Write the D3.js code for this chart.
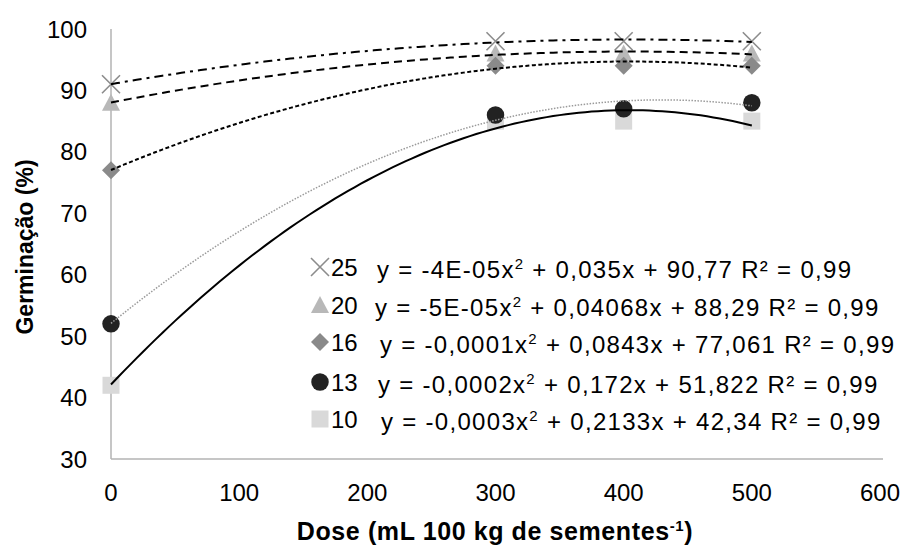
<!DOCTYPE html>
<html>
<head>
<meta charset="utf-8">
<script src="https://cdn.jsdelivr.net/npm/d3@7"></script>
<style>
  body { margin: 0; background: #fff; }
  text { font-family: Arial, "Liberation Sans", sans-serif; fill: #000; }
</style>
</head>
<body>
<div id="chart"></div>
<script>
// doses on x
var doses = [0, 300, 400, 500];
// germination (%) per temperature series
var s25 = [91, 98, 98, 98];
var s20 = [88, 96, 96, 96];
var s16 = [77, 94, 94, 94];
var s13 = [52, 86, 87, 88];
var s10 = [42, 85, 85, 85];
var seriesNames = ["25", "20", "16", "13", "10"];
var equations = [
  ["y = -4E-05x", " + 0,035x + 90,77 R² = 0,99"],
  ["y = -5E-05x", " + 0,04068x + 88,29 R² = 0,99"],
  ["y = -0,0001x", " + 0,0843x + 77,061 R² = 0,99"],
  ["y = -0,0002x", " + 0,172x + 51,822 R² = 0,99"],
  ["y = -0,0003x", " + 0,2133x + 42,34 R² = 0,99"]
];
var xTicks = [0, 100, 200, 300, 400, 500, 600];
var yTicks = [30, 40, 50, 60, 70, 80, 90, 100];

var width = 906, height = 545;
var margin = {top: 29, right: 23, bottom: 86, left: 111};

var svg = d3.select("#chart").append("svg")
  .attr("width", width)
  .attr("height", height);

var x = d3.scaleLinear().domain([0, 600]).range([margin.left, 880]);
var y = d3.scaleLinear().domain([30, 100]).range([height - margin.bottom, margin.top]);

// axes (plain gray lines, no tick marks)
svg.append("line")
  .attr("x1", x(0)).attr("x2", 883)
  .attr("y1", y(30)).attr("y2", y(30))
  .attr("stroke", "#b3b3b3").attr("stroke-width", 1.5);
svg.append("line")
  .attr("x1", x(0)).attr("x2", x(0))
  .attr("y1", y(30)).attr("y2", y(100))
  .attr("stroke", "#b3b3b3").attr("stroke-width", 1.5);

svg.selectAll(".ylab")
  .data(yTicks)
  .enter().append("text")
  .attr("class", "ylab")
  .attr("x", 87)
  .attr("y", function(d) { return y(d); })
  .attr("dy", "0.36em")
  .attr("text-anchor", "end")
  .style("font-size", "24px")
  .text(function(d) { return d; });

svg.selectAll(".xlab")
  .data(xTicks)
  .enter().append("text")
  .attr("class", "xlab")
  .attr("x", function(d) { return x(d); })
  .attr("y", 492)
  .attr("dy", "0.36em")
  .attr("text-anchor", "middle")
  .style("font-size", "24px")
  .text(function(d) { return d; });

// axis titles
var xt = svg.append("text")
  .attr("x", 495).attr("y", 540)
  .attr("text-anchor", "middle")
  .style("font-size", "25px").style("font-weight", "bold")
  .style("letter-spacing", "0.6px");
xt.append("tspan").text("Dose (mL 100 kg de sementes");
xt.append("tspan").attr("dy", -9).style("font-size", "15px").text("-1");
xt.append("tspan").attr("dy", 9).text(")");

svg.append("text")
  .attr("transform", "translate(33,247) rotate(-90)")
  .attr("text-anchor", "middle")
  .style("font-size", "23px").style("font-weight", "bold")
  .text("Germinação (%)");

// quadratic least squares fit (Excel style trendline)
function quadFit(xs, ys) {
  var n = xs.length, S = [0, 0, 0, 0, 0], T = [0, 0, 0];
  for (var i = 0; i < n; i++) {
    var p = 1;
    for (var k = 0; k < 5; k++) { S[k] += p; if (k < 3) T[k] += p * ys[i]; p *= xs[i]; }
  }
  var A = [[S[0], S[1], S[2], T[0]], [S[1], S[2], S[3], T[1]], [S[2], S[3], S[4], T[2]]];
  for (var c = 0; c < 3; c++) {
    for (var r = c + 1; r < 3; r++) {
      var f = A[r][c] / A[c][c];
      for (var j = c; j < 4; j++) A[r][j] -= f * A[c][j];
    }
  }
  var b = [0, 0, 0];
  for (var r2 = 2; r2 >= 0; r2--) {
    var s = A[r2][3];
    for (var j2 = r2 + 1; j2 < 3; j2++) s -= A[r2][j2] * b[j2];
    b[r2] = s / A[r2][r2];
  }
  return function(v) { return b[0] + b[1] * v + b[2] * v * v; };
}

// marker shapes
function markerPath(type) {
  if (type === "x") return "M-9,-9L9,9M-9,9L9,-9";
  if (type === "tri") return "M0,-9L9,8L-9,8Z";
  if (type === "dia") return "M0,-9L9,0L0,9L-9,0Z";
  if (type === "sq") return "M-8.5,-8.5H8.5V8.5H-8.5Z";
  return d3.symbol(d3.symbolCircle, 240)();
}

var series = [
  {name: "25", values: s25, marker: "x", mcolor: "#8c8c8c", line: "#000", dash: "9,5,3,5", lw: 2},
  {name: "20", values: s20, marker: "tri", mcolor: "#b8b8b8", line: "#000", dash: "8,5", lw: 2},
  {name: "16", values: s16, marker: "dia", mcolor: "#8a8a8a", line: "#000", dash: "4,2.5", lw: 2},
  {name: "13", values: s13, marker: "circ", mcolor: "#222", line: "#9a9a9a", dash: "1.5,1.5", lw: 1.5},
  {name: "10", values: s10, marker: "sq", mcolor: "#d9d9d9", line: "#000", dash: null, lw: 2}
];

function drawMarker(g, s, cx, cy) {
  var p = g.append("path")
    .attr("d", markerPath(s.marker))
    .attr("transform", "translate(" + cx + "," + cy + ")");
  if (s.marker === "x") p.attr("fill", "none").attr("stroke", s.mcolor).attr("stroke-width", 1.6);
  else p.attr("fill", s.mcolor);
}

// markers (drawn in this order so the overlaps match)
var drawOrder = [4, 3, 1, 2, 0];
drawOrder.forEach(function(i) {
  var s = series[i];
  var g = svg.append("g");
  s.values.forEach(function(v, j) { drawMarker(g, s, x(doses[j]), y(v)); });
});

// trendlines on top
var fineX = d3.range(0, 501, 5);
series.forEach(function(s) {
  var f = quadFit(doses, s.values);
  var line = d3.line()
    .x(function(d) { return x(d); })
    .y(function(d) { return y(f(d)); });
  svg.append("path")
    .datum(fineX)
    .attr("d", line)
    .attr("fill", "none")
    .attr("stroke", s.line)
    .attr("stroke-width", s.lw)
    .attr("stroke-dasharray", s.dash);
});

// legend with equations
var legendY = [267, 305, 342, 382, 419];
var eqX = [377, 375, 380, 378, 381];
series.forEach(function(s, i) {
  var g = svg.append("g");
  drawMarker(g, s, 320, legendY[i]);
  g.append("text")
    .attr("x", 331).attr("y", legendY[i]).attr("dy", "0.36em")
    .style("font-size", "24px")
    .text(s.name);
  var t = g.append("text")
    .attr("x", eqX[i]).attr("y", legendY[i] + 2).attr("dy", "0.36em")
    .style("font-size", "24px")
    .style("letter-spacing", "1.3px");
  t.append("tspan").text(equations[i][0]);
  t.append("tspan").attr("dy", -9).style("font-size", "15px").text("2");
  t.append("tspan").attr("dy", 9).text(equations[i][1]);
});
</script>
</body>
</html>
